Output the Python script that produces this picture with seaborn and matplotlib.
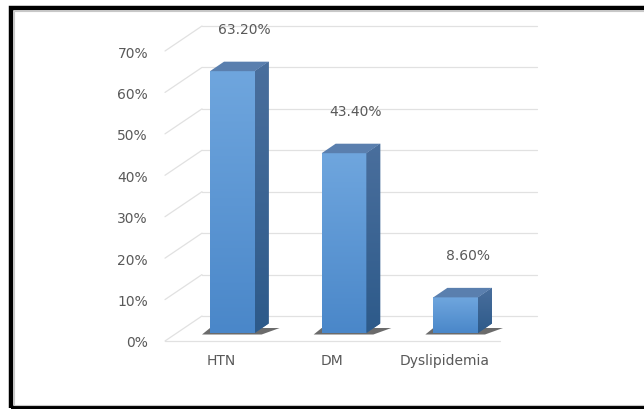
import numpy as np
import pandas as pd
import matplotlib
matplotlib.use("Agg")
import matplotlib.pyplot as plt
import seaborn as sns
from matplotlib.patches import Polygon, Rectangle
from matplotlib.colors import LinearSegmentedColormap

categories = ["HTN", "DM", "Dyslipidemia"]
prevalence = [63.2, 43.4, 8.6]
y_ticks = [0, 10, 20, 30, 40, 50, 60, 70]

W, H, DPI = 644, 410, 100
sns.set_theme(style="white")
plt.rcParams["font.family"] = ["DejaVu Sans"]

fig = plt.figure(figsize=(W / DPI, H / DPI), dpi=DPI)
fig.patch.set_facecolor("white")

# front plane of the box (pixel edges)
L, R, B, T = 165, 500, 342, 52
ax = fig.add_axes([L / W, (H - B) / H, (R - L) / W, (B - T) / H])
ax.set_facecolor("none")

df = pd.DataFrame({"condition": categories, "pct": prevalence})
sns.barplot(data=df, x="condition", y="pct", width=0.4, color="#5a93d3",
            errorbar=None, ax=ax, zorder=4, linewidth=0)

ax.set_xlim(-0.5, 2.5)
ax.set_ylim(0, 70)

# data units per pixel
sx = 3.0 / (R - L)
sy = 70.0 / (B - T)


def off(dx, dy):
    return dx * sx, dy * sy


back_dx, back_dy = off(37, 25)     # back wall offset
bar_dx, bar_dy = off(11.5, 8)      # bar front plane offset
dep_dx, dep_dy = off(14, 9.5)      # bar depth

grid_c = "#e1e1e1"
x_lo, x_hi = ax.get_xlim()
for t in y_ticks:
    ax.plot([x_lo + back_dx, x_hi + back_dx], [t + back_dy, t + back_dy],
            color=grid_c, lw=0.9, clip_on=False, zorder=1)
    ax.plot([x_lo, x_lo + back_dx], [t, t + back_dy],
            color=grid_c, lw=0.9, clip_on=False, zorder=1)
# front edge of the floor
ax.plot([x_lo, x_hi], [0, 0], color=grid_c, lw=0.9, clip_on=False, zorder=1)

front_cmap = LinearSegmentedColormap.from_list("front", ["#4a87c9", "#6fa6de"])
side_cmap = LinearSegmentedColormap.from_list("side", ["#2d5a8a", "#4a6f9d"])
grad = np.linspace(0, 1, 256).reshape(-1, 1)

for p, v in zip(ax.patches, prevalence):
    x0 = p.get_x() + bar_dx
    w = p.get_width()
    h = p.get_height()
    y0 = bar_dy
    p.set_x(x0)
    p.set_y(y0)
    xr = x0 + w

    # floor shadow
    sh_l, _ = off(8, 0)
    _, sh_d = off(0, 1.5)
    sh_r, sh_u = off(11, 5)
    shadow = Polygon([(x0 - sh_l, y0 - sh_d), (xr + dep_dx * 0.5, y0 - sh_d),
                      (xr + dep_dx + sh_r, y0 + sh_u), (x0, y0 + sh_u)],
                     closed=True, facecolor="#3a3a3a", alpha=0.75,
                     edgecolor="none", zorder=2, clip_on=False)
    ax.add_patch(shadow)

    # gradient on front face
    im = ax.imshow(grad, extent=[x0, xr, y0, y0 + h], origin="lower",
                   cmap=front_cmap, aspect="auto", zorder=4.1,
                   interpolation="bilinear")
    im.set_clip_path(p)

    # right side face
    side = Polygon([(xr, y0), (xr, y0 + h), (xr + dep_dx, y0 + h + dep_dy),
                    (xr + dep_dx, y0 + dep_dy)], closed=True,
                   facecolor="#3a6594", edgecolor="none", zorder=4,
                   clip_on=False)
    ax.add_patch(side)
    ims = ax.imshow(grad, extent=[xr, xr + dep_dx, y0, y0 + h + dep_dy],
                    origin="lower", cmap=side_cmap, aspect="auto",
                    zorder=4.1, interpolation="bilinear")
    ims.set_clip_path(side)
    ims.set_clip_on(True)

    # top face
    top = Polygon([(x0, y0 + h), (xr, y0 + h), (xr + dep_dx, y0 + h + dep_dy),
                   (x0 + dep_dx, y0 + h + dep_dy)], closed=True,
                  facecolor="#5a7fae", edgecolor="none", zorder=4.2,
                  clip_on=False)
    ax.add_patch(top)

    # value label
    lx = x0 + w / 2 + off(12, 0)[0]
    ly = y0 + h + off(0, 42)[1]
    ax.text(lx, ly, f"{v:.2f}%", ha="center", va="center", fontsize=10,
            color="#595959", zorder=5, clip_on=False)

ax.set_xlim(-0.5, 2.5)
ax.set_ylim(0, 70)

ax.set_yticks(y_ticks)
ax.set_yticklabels([f"{t}%" for t in y_ticks])
ax.tick_params(axis="y", length=0, pad=12.2, labelsize=10, labelcolor="#595959")
ax.tick_params(axis="x", length=0, pad=8.5, labelsize=10, labelcolor="#595959")
ax.set_xlabel("")
ax.set_ylabel("")
for s in ax.spines.values():
    s.set_visible(False)

# outer frame
fig.patches.append(Rectangle((11 / W, (H - 409) / H), 1.2, (409 - 9) / H,
                             transform=fig.transFigure, fill=False,
                             edgecolor="black", lw=3.2, zorder=0))
fig.patches.append(Rectangle((14 / W, (H - 406) / H), 1.2, (406 - 12) / H,
                             transform=fig.transFigure, fill=False,
                             edgecolor="#c8c8c8", lw=0.8, zorder=0))

fig.savefig("out.png", dpi=DPI, facecolor="white")
